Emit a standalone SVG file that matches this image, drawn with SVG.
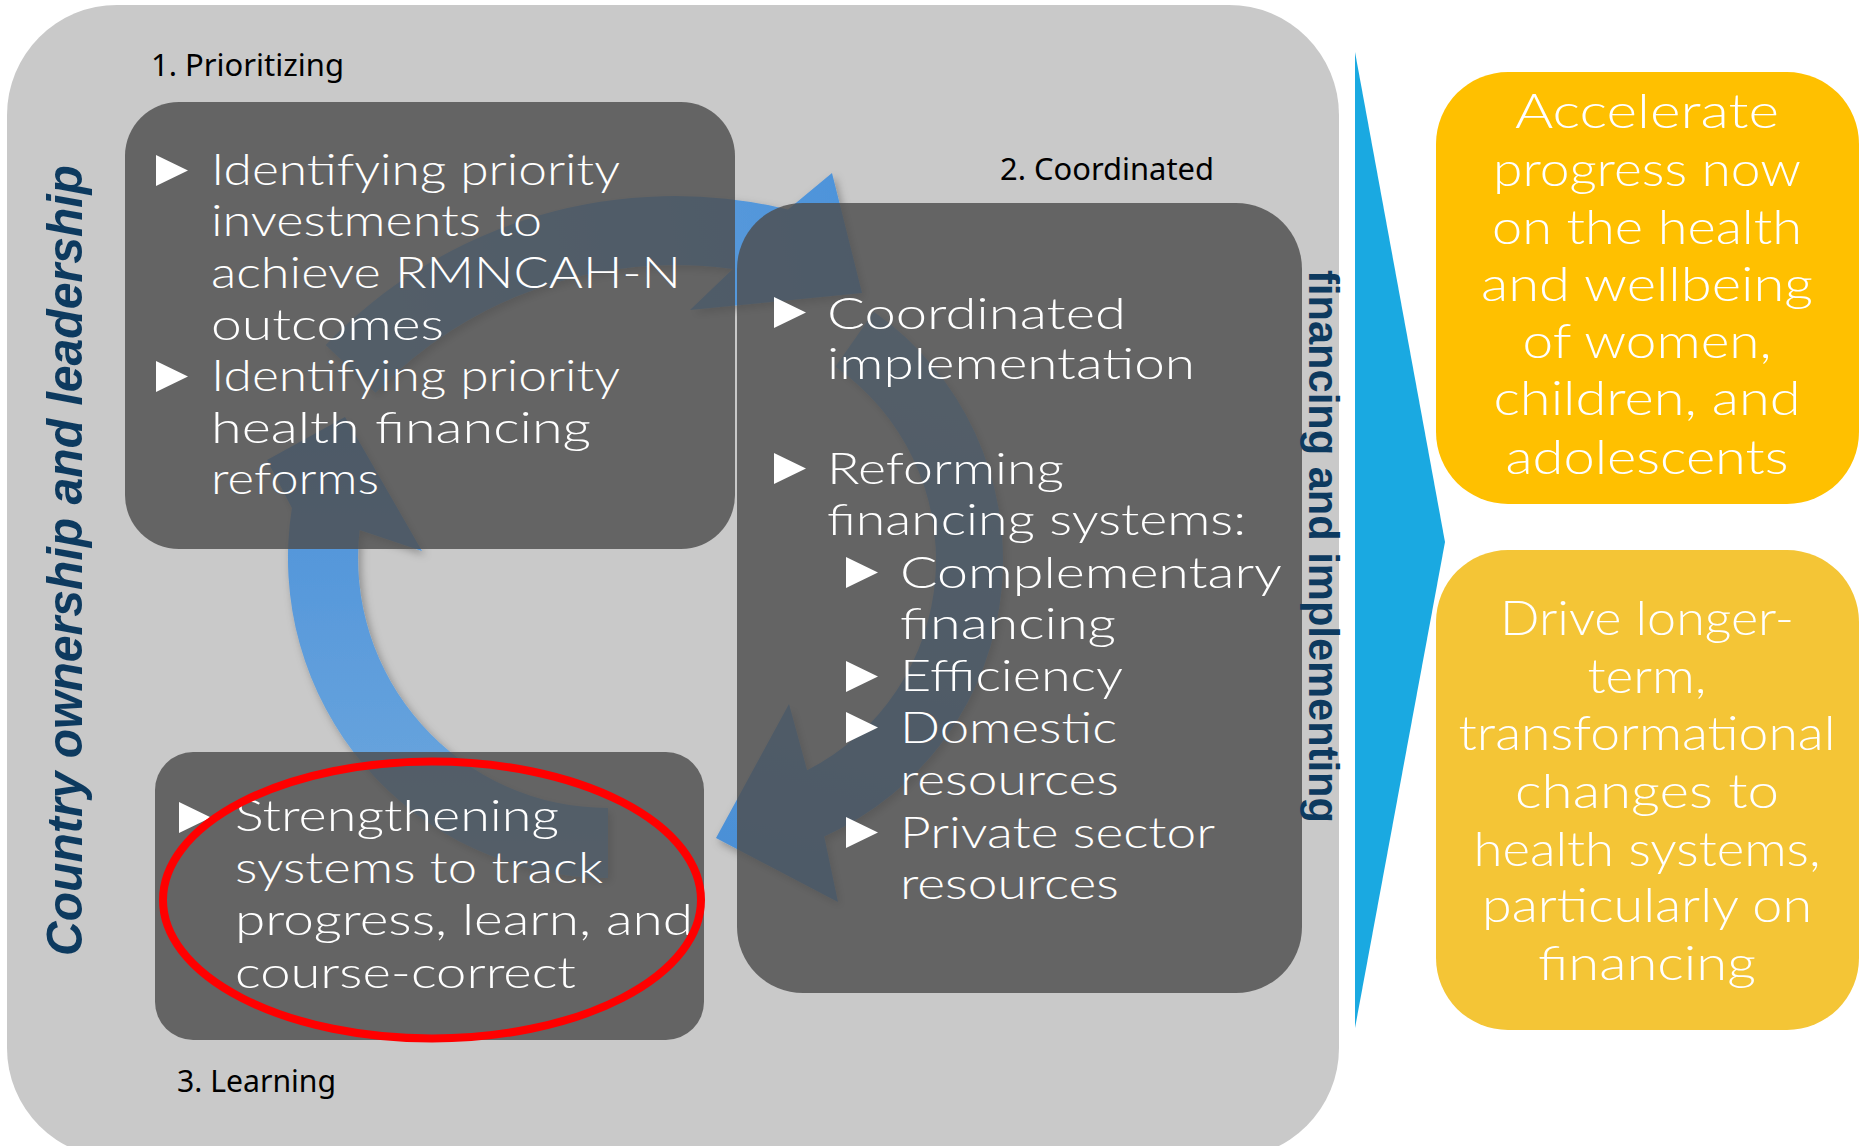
<svg xmlns="http://www.w3.org/2000/svg" xmlns:xlink="http://www.w3.org/1999/xlink" width="1859" height="1146" viewBox="0 0 1859 1146">
  <style>
    .panel { fill: #c9c9c9; }
    .box { fill: #4e4e4e; fill-opacity: 0.82; }
    .t { font-family: Lato, 'Open Sans', 'DejaVu Sans', sans-serif; font-weight: 300; font-size: 43px; fill: #ffffff; }
    .o { font-family: Lato, 'Open Sans', 'DejaVu Sans', sans-serif; font-weight: 300; font-size: 47px; fill: #ffffff; text-anchor: middle; }
    .lbl { font-family: 'Noto Sans', 'Liberation Sans', sans-serif; font-size: 30px; fill: #000000; }
    .vert { font-weight: bold; fill: #0d3a5f; }
    .bul { fill: #ffffff; }
    .arrow { filter: url(#shadow); }
  </style>
  <defs>
    <polygon id="tri" points="0,0 32,15.5 0,31"/>
    <filter id="shadow" x="-10%" y="-10%" width="130%" height="130%">
      <feDropShadow dx="3" dy="4" stdDeviation="4" flood-color="#000000" flood-opacity="0.3"/>
    </filter>
    <linearGradient id="gA3" gradientUnits="userSpaceOnUse" x1="0" y1="420" x2="0" y2="880">
      <stop offset="0" stop-color="#4a90d9"/>
      <stop offset="1" stop-color="#70a9de"/>
    </linearGradient>
    <linearGradient id="gA2" gradientUnits="userSpaceOnUse" x1="870" y1="250" x2="330" y2="370">
      <stop offset="0" stop-color="#4d93da"/>
      <stop offset="1" stop-color="#6da7dd"/>
    </linearGradient>
    <linearGradient id="gA1" gradientUnits="userSpaceOnUse" x1="720" y1="860" x2="880" y2="320">
      <stop offset="0" stop-color="#4a8fd6"/>
      <stop offset="1" stop-color="#6da7dd"/>
    </linearGradient>
  </defs>

  <!-- grey framework panel -->
  <rect class="panel" x="7" y="5" width="1332" height="1153" rx="110"/>

  <!-- cycle arrows, drawn beneath the translucent boxes -->
  <g id="connectors">
    <path id="arrow-learning-to-prioritizing" class="arrow" fill="url(#gA3)"
          d="M608,878 A320,320 0 0 1 291.9,507.9 L267,460 L345,417 L422,551 L359.6,530.1 A250,250 0 0 0 608,808 Z"/>
    <path id="arrow-prioritizing-to-coordinated" class="arrow" fill="url(#gA2)"
          d="M325.7,345 A484,484 0 0 1 788,209.4 L832,173 L862,293 L690,310 L732.8,269 A415,415 0 0 0 375.5,392.8 Z"/>
    <path id="arrow-coordinated-to-learning" class="arrow" fill="url(#gA1)"
          d="M873.8,311.8 A303,303 0 0 1 824.2,836.4 L838,902 L716,838 L789,704 L807.1,770.3 A236,236 0 0 0 835.4,366.7 Z"/>
  </g>

  <!-- step labels -->
  <text class="lbl" x="151" y="76" textLength="193" lengthAdjust="spacingAndGlyphs">1. Prioritizing</text>
  <text class="lbl" x="1000" y="180" textLength="214" lengthAdjust="spacingAndGlyphs">2. Coordinated</text>
  <text class="lbl" x="177" y="1092" textLength="159" lengthAdjust="spacingAndGlyphs">3. Learning</text>

  <!-- step 1 -->
  <g id="node-prioritizing">
    <rect class="box" x="125" y="102" width="610" height="447" rx="54"/>
    <use xlink:href="#tri" class="bul" x="156" y="155"/>
    <use xlink:href="#tri" class="bul" x="156" y="361"/>
    <text class="t" x="211" y="185" textLength="409" lengthAdjust="spacingAndGlyphs">Identifying priority</text>
    <text class="t" x="211" y="236" textLength="331" lengthAdjust="spacingAndGlyphs">investments to</text>
    <text class="t" x="211" y="288" textLength="470" lengthAdjust="spacingAndGlyphs">achieve RMNCAH-N</text>
    <text class="t" x="211" y="340" textLength="233" lengthAdjust="spacingAndGlyphs">outcomes</text>
    <text class="t" x="211" y="391" textLength="409" lengthAdjust="spacingAndGlyphs">Identifying priority</text>
    <text class="t" x="211" y="443" textLength="380" lengthAdjust="spacingAndGlyphs">health financing</text>
    <text class="t" x="211" y="494" textLength="168" lengthAdjust="spacingAndGlyphs">reforms</text>
  </g>

  <!-- step 2 -->
  <g id="node-coordinated">
    <rect class="box" x="737" y="203" width="565" height="790" rx="66"/>
    <use xlink:href="#tri" class="bul" x="774" y="297"/>
    <use xlink:href="#tri" class="bul" x="774" y="453"/>
    <use xlink:href="#tri" class="bul" x="846" y="557"/>
    <use xlink:href="#tri" class="bul" x="846" y="661"/>
    <use xlink:href="#tri" class="bul" x="846" y="712"/>
    <use xlink:href="#tri" class="bul" x="846" y="817"/>
    <text class="t" x="827" y="329" textLength="299" lengthAdjust="spacingAndGlyphs">Coordinated</text>
    <text class="t" x="827" y="379" textLength="368" lengthAdjust="spacingAndGlyphs">implementation</text>
    <text class="t" x="827" y="484" textLength="237" lengthAdjust="spacingAndGlyphs">Reforming</text>
    <text class="t" x="827" y="535" textLength="419" lengthAdjust="spacingAndGlyphs">financing systems:</text>
    <text class="t" x="900" y="588" textLength="382" lengthAdjust="spacingAndGlyphs">Complementary</text>
    <text class="t" x="900" y="639" textLength="216" lengthAdjust="spacingAndGlyphs">financing</text>
    <text class="t" x="900" y="691" textLength="223" lengthAdjust="spacingAndGlyphs">Efficiency</text>
    <text class="t" x="900" y="743" textLength="217" lengthAdjust="spacingAndGlyphs">Domestic</text>
    <text class="t" x="900" y="795" textLength="219" lengthAdjust="spacingAndGlyphs">resources</text>
    <text class="t" x="900" y="848" textLength="315" lengthAdjust="spacingAndGlyphs">Private sector</text>
    <text class="t" x="900" y="899" textLength="219" lengthAdjust="spacingAndGlyphs">resources</text>
  </g>

  <!-- step 3 -->
  <g id="node-learning">
    <rect class="box" x="155" y="752" width="549" height="288" rx="38"/>
    <use xlink:href="#tri" class="bul" x="179" y="802"/>
    <text class="t" x="235" y="831" textLength="324" lengthAdjust="spacingAndGlyphs">Strengthening</text>
    <text class="t" x="235" y="883" textLength="368" lengthAdjust="spacingAndGlyphs">systems to track</text>
    <text class="t" x="235" y="935" textLength="458" lengthAdjust="spacingAndGlyphs">progress, learn, and</text>
    <text class="t" x="235" y="988" textLength="341" lengthAdjust="spacingAndGlyphs">course-correct</text>
  </g>

  <!-- highlight around step 3 -->
  <g id="highlight">
    <ellipse cx="432" cy="900" rx="269" ry="138.5" fill="none" stroke="#ff0000" stroke-width="8"/>
  </g>

  <!-- side captions -->
  <g id="caption-ownership">
    <text class="vert" transform="translate(82,956) rotate(-90)" font-family="'Liberation Sans', Arial, sans-serif" font-style="italic" font-size="50" textLength="791" lengthAdjust="spacingAndGlyphs">Country ownership and leadership</text>
  </g>
  <g id="caption-implementing">
    <text class="vert" transform="translate(1309,270) rotate(90)" font-family="'Liberation Sans', Arial, sans-serif" font-size="43" textLength="553" lengthAdjust="spacingAndGlyphs">financing and implementing</text>
  </g>

  <!-- chevron pointing to outcomes -->
  <g id="chevron">
    <polygon points="1355,52 1445,542 1355,1028" fill="#1aa9e1"/>
  </g>

  <!-- outcomes -->
  <g id="node-accelerate">
    <rect x="1436" y="72" width="423" height="432" rx="72" fill="#ffc000"/>
    <text class="o" x="1647" y="128" textLength="264" lengthAdjust="spacingAndGlyphs">Accelerate</text>
    <text class="o" x="1647" y="186" textLength="308" lengthAdjust="spacingAndGlyphs">progress now</text>
    <text class="o" x="1647" y="244" textLength="310" lengthAdjust="spacingAndGlyphs">on the health</text>
    <text class="o" x="1647" y="301" textLength="332" lengthAdjust="spacingAndGlyphs">and wellbeing</text>
    <text class="o" x="1647" y="358" textLength="249" lengthAdjust="spacingAndGlyphs">of women,</text>
    <text class="o" x="1647" y="415" textLength="307" lengthAdjust="spacingAndGlyphs">children, and</text>
    <text class="o" x="1647" y="474" textLength="283" lengthAdjust="spacingAndGlyphs">adolescents</text>
  </g>
  <g id="node-drive">
    <rect x="1436" y="550" width="423" height="480" rx="72" fill="#f4c536"/>
    <text class="o" x="1647" y="635" textLength="294" lengthAdjust="spacingAndGlyphs">Drive longer-</text>
    <text class="o" x="1647" y="693" textLength="119" lengthAdjust="spacingAndGlyphs">term,</text>
    <text class="o" x="1647" y="750" textLength="377" lengthAdjust="spacingAndGlyphs">transformational</text>
    <text class="o" x="1647" y="808" textLength="264" lengthAdjust="spacingAndGlyphs">changes to</text>
    <text class="o" x="1647" y="866" textLength="347" lengthAdjust="spacingAndGlyphs">health systems,</text>
    <text class="o" x="1647" y="922" textLength="330" lengthAdjust="spacingAndGlyphs">particularly on</text>
    <text class="o" x="1647" y="980" textLength="218" lengthAdjust="spacingAndGlyphs">financing</text>
  </g>
</svg>
